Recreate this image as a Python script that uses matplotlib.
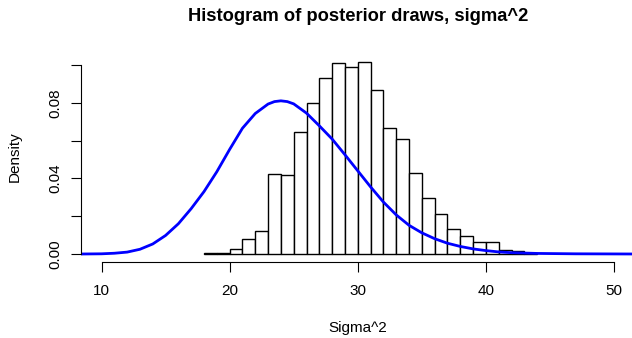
import numpy as np
import matplotlib
matplotlib.use("Agg")
from matplotlib import pyplot as plt

plt.rcParams['font.family'] = ['Liberation Sans', 'DejaVu Sans']

# histogram of posterior draws (density, bin width 1)
bin_left = [18, 19, 20, 21, 22, 23, 24, 25, 26, 27, 28, 29, 30, 31, 32, 33,
            34, 35, 36, 37, 38, 39, 40, 41, 42, 43]
density = [0.0005, 0.0003, 0.0026, 0.0077, 0.0123, 0.0423, 0.0417, 0.0644,
           0.0797, 0.0933, 0.1009, 0.0988, 0.1015, 0.0865, 0.0665, 0.0609,
           0.0427, 0.0296, 0.0210, 0.0134, 0.0097, 0.0065, 0.0064, 0.0023,
           0.0018, 0.0007]

# prior curve
curve_x = [8.4, 10, 11, 12, 13, 14, 15, 16, 17, 18, 19, 20, 21, 22, 23,
           23.5, 24, 24.5, 25, 26, 27, 28, 29, 30, 31, 32, 33, 34, 35, 36,
           37, 38, 39, 40, 41, 42, 44, 47, 51.6]
curve_y = [0.0, 0.0001, 0.0004, 0.0010, 0.0025, 0.0053, 0.0098, 0.0160,
           0.0240, 0.0330, 0.0435, 0.0553, 0.0665, 0.0743, 0.0793, 0.0806,
           0.0810, 0.0806, 0.0794, 0.0745, 0.0678, 0.0608, 0.0525, 0.0440,
           0.0355, 0.0275, 0.0207, 0.0152, 0.0112, 0.0081, 0.0057, 0.0040,
           0.0027, 0.0018, 0.0011, 0.0007, 0.0003, 0.0001, 0.0]

fig = plt.figure(figsize=(6.32, 3.38), dpi=100)
ax = fig.add_axes([81/632, 76/338, 553.5/632, 216/338])

ax.bar(bin_left, density, width=1, align='edge', color='white',
       edgecolor='black', linewidth=1.0)
ax.plot(curve_x, curve_y, color='#0000ff', linewidth=2)

ax.set_xlim(8.4, 51.6)
ax.set_ylim(-0.00423, 0.1100)

for s in ['top', 'right']:
    ax.spines[s].set_visible(False)
ax.spines['left'].set_bounds(0, 0.10)
ax.spines['bottom'].set_bounds(10, 50)
ax.spines['left'].set_linewidth(0.8)
ax.spines['bottom'].set_linewidth(0.8)

ax.set_xticks([10, 20, 30, 40, 50])
ax.set_yticks([0, 0.02, 0.04, 0.06, 0.08, 0.10])
ax.set_yticklabels(['0.00', '', '0.04', '', '0.08', ''])
ax.tick_params(axis='both', length=7, width=0.8, labelsize=11)
ax.tick_params(axis='x', pad=8.5)
ax.tick_params(axis='y', pad=6.3)
for lab in ax.get_yticklabels():
    lab.set_rotation(90)
    lab.set_va('center')

ax.set_title("Histogram of posterior draws, sigma^2", fontsize=13.2,
             fontweight='bold', pad=18)
fig.text(357.5/632, 1 - 332/338, "Sigma^2", ha='center', va='baseline',
         fontsize=11)
fig.text(15/632, 1 - 157/338, "Density", ha='center', va='center',
         rotation=90, fontsize=11)

fig.savefig("out.png", dpi=100)
